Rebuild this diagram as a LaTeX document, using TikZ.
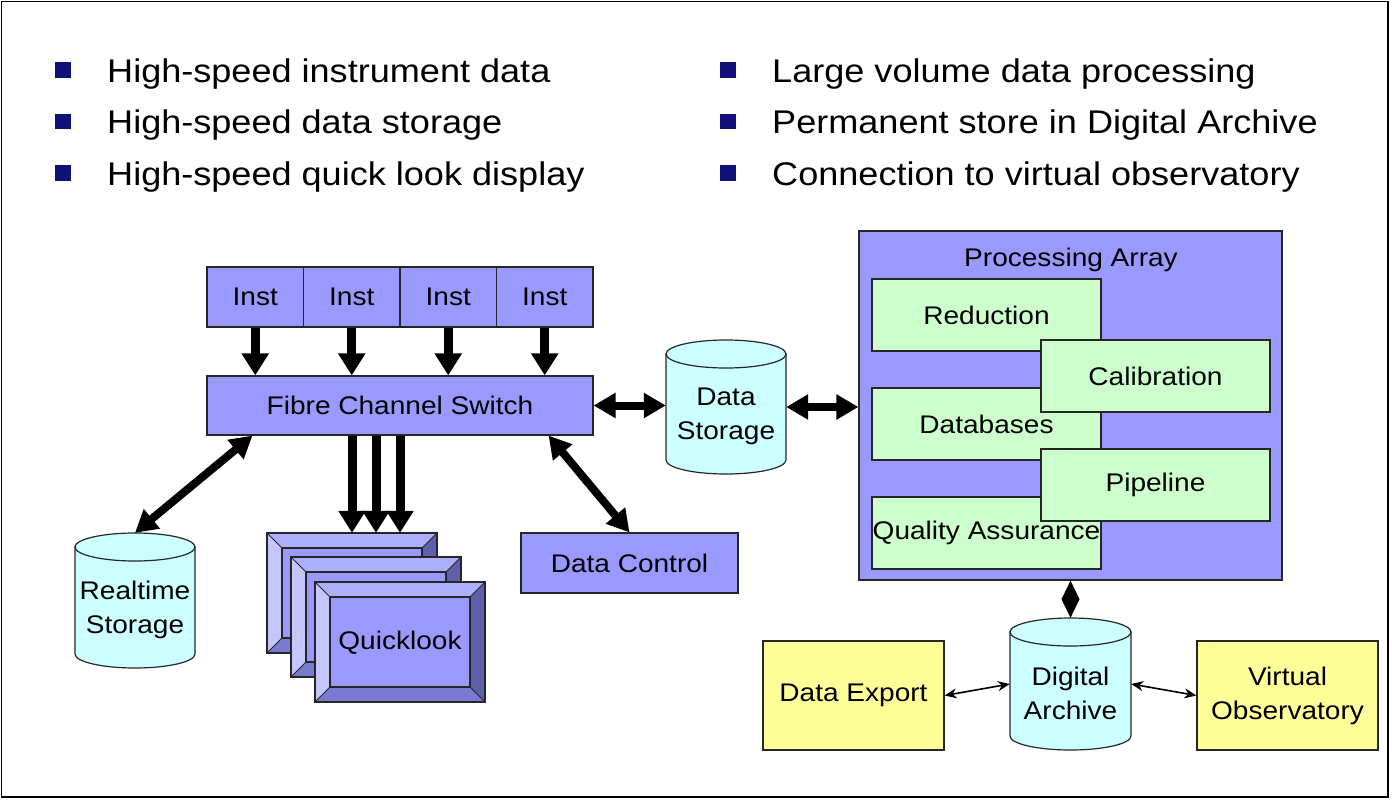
\documentclass[tikz,border=0pt]{standalone}
\usepackage{fontspec}
\setmainfont{Liberation Sans}[FakeStretch=1.1]
\usetikzlibrary{arrows.meta,calc}
\definecolor{BoxBlue}{RGB}{153,153,255}
\definecolor{BevelLeft}{RGB}{198,198,255}
\definecolor{BevelTop}{RGB}{175,175,255}
\definecolor{BevelBottom}{RGB}{122,122,210}
\definecolor{BevelRight}{RGB}{96,96,170}
\definecolor{DrumCyan}{RGB}{204,255,255}
\definecolor{PaleGreen}{RGB}{204,255,204}
\definecolor{PaleYellow}{RGB}{255,255,153}
\definecolor{BulletBlue}{RGB}{16,16,120}
\newcommand{\diagfont}{\fontsize{25.5}{34}\selectfont}
\newcommand{\listfont}{\fontsize{32.8}{40}\selectfont}
\tikzset{
	block/.style={draw=black!85, line width=1.2pt, fill=BoxBlue, inner sep=0pt, align=center, font=\diagfont},
	greenbox/.style={block, fill=PaleGreen, minimum width=229, minimum height=72},
	yellowbox/.style={block, fill=PaleYellow, minimum width=181, minimum height=109},
	drum/.style={draw=black!85, line width=1.2pt, fill=DrumCyan},
	drum label/.style={inner sep=0pt, align=center, font=\diagfont},
	bullet/.style={fill=BulletBlue, minimum size=15.5, inner sep=0pt},
	list item/.style={anchor=base west, inner sep=0pt, font=\listfont},
	fat arrow/.style={line width=9pt, -{Triangle[width=26pt,length=22pt]}},
	fat link/.style={line width=8pt, {Triangle[width=24pt,length=22pt]}-{Triangle[width=24pt,length=22pt]}},
	thin link/.style={line width=1.6pt, {Stealth[width=10pt,length=12pt]}-{Stealth[width=10pt,length=12pt]}}
}
% cylinder: name, left, top, width, height, text
\newcommand{\storageDrum}[6]{
	\filldraw[drum] (#2,#3+14) -- (#2,#3+#5-14)
		arc[start angle=180, end angle=0, x radius=#4/2, y radius=14]
		-- (#2+#4,#3+14) -- cycle;
	\filldraw[drum] (#2+#4/2,#3+14) ellipse[x radius=#4/2, y radius=14];
	\node[drum label, minimum width=#4, minimum height=#5] (#1) at (#2+#4/2,#3+#5/2) {};
	\node[drum label] (#1-text) at (#2+#4/2,#3+#5/2+9.5) {#6};
}
% beveled display frame: left, top
\newcommand{\bevelFrame}[2]{
	\fill[BevelTop] (#1,#2) -- (#1+170,#2) -- (#1+155,#2+15) -- (#1+15,#2+15) -- cycle;
	\fill[BevelLeft] (#1,#2) -- (#1+15,#2+15) -- (#1+15,#2+105) -- (#1,#2+120) -- cycle;
	\fill[BevelBottom] (#1,#2+120) -- (#1+15,#2+105) -- (#1+155,#2+105) -- (#1+170,#2+120) -- cycle;
	\fill[BevelRight] (#1+170,#2) -- (#1+170,#2+120) -- (#1+155,#2+105) -- (#1+155,#2+15) -- cycle;
	\filldraw[fill=BoxBlue, draw=black!85, line width=1.2pt] (#1+15,#2+15) rectangle (#1+155,#2+105);
	\draw[black!85, line width=1.2pt] (#1,#2) rectangle (#1+170,#2+120);
	\draw[black!85, line width=1pt] (#1,#2) -- (#1+15,#2+15) (#1+170,#2) -- (#1+155,#2+15)
		(#1,#2+120) -- (#1+15,#2+105) (#1+170,#2+120) -- (#1+155,#2+105);
}

\begin{document}
\begin{tikzpicture}[x=1pt, y=-1pt]
	\useasboundingbox (0,0) rectangle (1392,800);
	\draw[line width=1.5pt] (1.5,1.5) rectangle (1388,797);
%
%	%bullet list
	\node[bullet] (b1) at (63,70) {};
	\node[bullet] (b2) at (63,121.5) {};
	\node[bullet] (b3) at (63,173) {};
	\node[list item] (t1) at (107,82) {High-speed instrument data};
	\node[list item] (t2) at (107,133.5) {High-speed data storage};
	\node[list item] (t3) at (107,185) {High-speed quick look display};
	\node[bullet] (b4) at (728,70) {};
	\node[bullet] (b5) at (728,121.5) {};
	\node[bullet] (b6) at (728,173) {};
	\node[list item] (t4) at (772,82) {Large volume data processing};
	\node[list item] (t5) at (772,133.5) {Permanent store in Digital Archive};
	\node[list item] (t6) at (772,185) {Connection to virtual observatory};
%
%	%instruments and switch
	\node[block, minimum width=96.5, minimum height=60] (inst1) at (255.25,297) {Inst};
	\node[block, minimum width=96.5, minimum height=60] (inst2) at (351.75,297) {Inst};
	\node[block, minimum width=96.5, minimum height=60] (inst3) at (448.25,297) {Inst};
	\node[block, minimum width=96.5, minimum height=60] (inst4) at (544.75,297) {Inst};
	\node[block, minimum width=386, minimum height=59] (fibre) at (400,405.5) {Fibre Channel Switch};
	\draw[fat arrow] (inst1.south) -- (inst1.south |- fibre.north);
	\draw[fat arrow] (inst2.south) -- (inst2.south |- fibre.north);
	\draw[fat arrow] (inst3.south) -- (inst3.south |- fibre.north);
	\draw[fat arrow] (inst4.south) -- (inst4.south |- fibre.north);
%
%	%quicklook displays
	\bevelFrame{267}{533}
	\bevelFrame{291}{557}
	\bevelFrame{315}{582}
	\node[minimum width=170, minimum height=120, inner sep=0pt] (ql1) at (352,593) {};
	\node[minimum width=170, minimum height=120, inner sep=0pt] (ql2) at (376,617) {};
	\node[drum label, minimum width=140, minimum height=90] (ql3) at (400,643) {Quicklook};
	\draw[fat arrow] ([xshift=-48pt]fibre.south) -- ([xshift=-48pt]fibre.south |- ql1.north);
	\draw[fat arrow] ([xshift=-24pt]fibre.south) -- ([xshift=-24pt]fibre.south |- ql1.north);
	\draw[fat arrow] (fibre.south) -- (fibre.south |- ql1.north);
%
%	%storage and control
	\storageDrum{rstore}{75}{533}{120}{135}{Realtime\\Storage}
	\storageDrum{dstore}{666}{340}{120}{134}{Data\\Storage}
	\node[block, minimum width=217, minimum height=60] (dctrl) at (629.5,563) {Data Control};
	\draw[fat link] (rstore.north) -- ([xshift=46pt]fibre.south west);
	\draw[fat link] ([xshift=-45pt]fibre.south east) -- (dctrl.north);
	\draw[fat link] (fibre.east) -- (fibre.east -| dstore.west);
%
%	%processing array
	\node[block, minimum width=423, minimum height=349] (proc) at (1070.5,405.5) {};
	\node[drum label, anchor=base] (proc-title) at (1071,266) {Processing Array};
	\node[greenbox] (reduce) at (986.5,315) {Reduction};
	\node[greenbox] (dbase) at (986.5,424) {Databases};
	\node[greenbox] (qa) at (986.5,533) {Quality Assurance};
	\node[greenbox] (calib) at (1155.5,376) {Calibration};
	\node[greenbox] (pipe) at (1155.5,485) {Pipeline};
	\draw[fat link] (dstore.east) -- (dstore.east -| proc.west);
%
%	%archive
	\storageDrum{archive}{1010}{618}{121}{132}{Digital\\Archive}
	\node[yellowbox] (export) at (853.5,695.5) {Data Export};
	\node[yellowbox] (vo) at (1287.5,695.5) {Virtual\\Observatory};
	\coordinate (mid) at ($(proc.south)!.5!(archive.north)$);
	\fill (proc.south) -- ([xshift=9pt]mid) -- (archive.north) -- ([xshift=-9pt]mid) -- cycle;
	\draw[thin link] (export.east) -- (archive.west);
	\draw[thin link] (archive.east) -- (vo.west);
\end{tikzpicture}
\end{document}
